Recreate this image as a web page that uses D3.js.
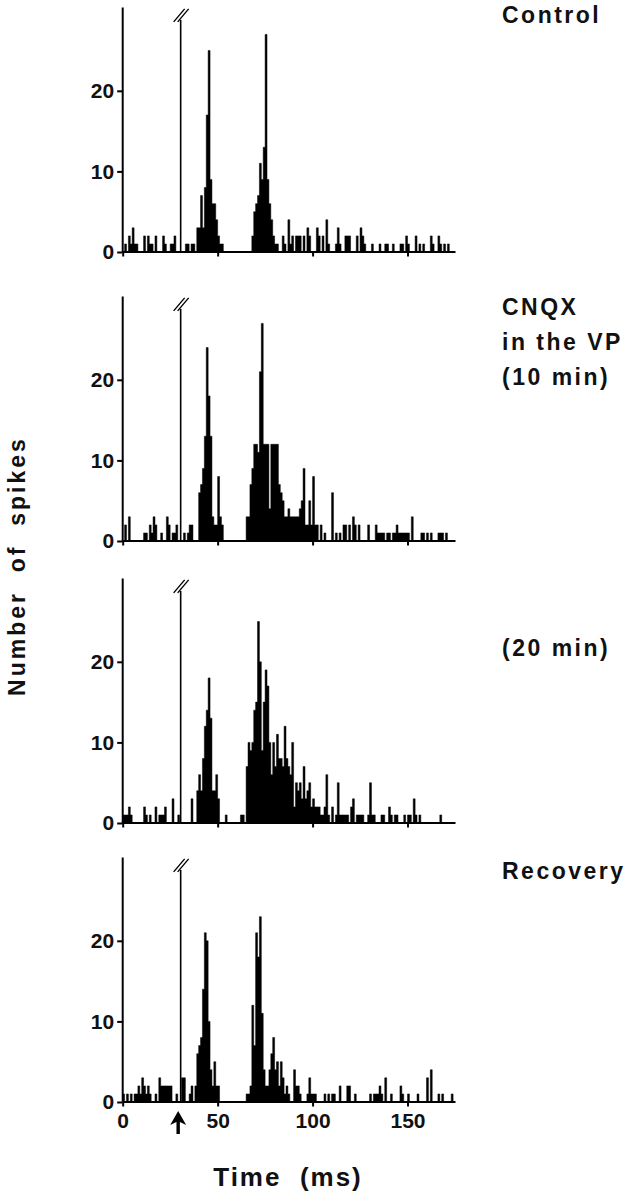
<!DOCTYPE html>
<html>
<head>
<meta charset="utf-8">
<script src="https://cdn.jsdelivr.net/npm/d3@7"></script>
<style>
  body { margin: 0; background: #fff; }
  svg { display: block; }
  text { font-family: "Liberation Sans", Arial, Helvetica, sans-serif; font-weight: bold; fill: #111; }
</style>
</head>
<body>
<div id="chart"></div>
<script>
// spike counts per 1 ms bin, 0..174 ms (stimulus artifact bin is drawn separately)
const controlCounts = [
  0,1,0,2,1,3,1,1,0,0, 0,2,0,2,1,1,0,2,0,0, 0,2,1,0,0,1,1,2,0,0,
  0,0,0,1,1,0,1,1,0,3, 3,7,3,8,17,25,9,6,6,4, 2,1,1,0,0,0,0,0,0,0,
  0,0,0,0,0,0,0,0,2,5, 6,7,11,9,13,27,9,6,4,2, 1,1,0,0,2,1,0,4,1,2,
  0,2,2,2,0,2,0,3,2,0, 0,0,3,2,0,2,0,4,1,0, 0,0,1,3,1,0,0,2,2,2,
  0,0,0,2,0,3,2,1,0,0, 0,1,0,0,0,1,0,0,1,1, 0,0,1,0,0,0,1,1,0,2,
  1,0,0,0,2,0,1,0,1,0, 0,0,2,1,0,0,2,1,0,1, 0,1,0,0,0
];
const cnqx10Counts = [
  0,2,0,3,0,0,0,0,0,0, 0,1,1,0,2,1,3,2,0,0, 1,0,0,3,2,0,1,1,2,0,
  0,0,1,0,1,2,2,0,0,0, 6,7,9,13,24,18,13,3,2,2, 8,3,2,0,0,0,0,0,0,0,
  0,0,0,0,0,3,3,7,9,12, 12,11,21,27,12,12,12,4,12,12, 12,12,7,6,5,3,3,4,3,3,
  3,3,3,4,5,9,2,2,5,2, 8,2,2,0,2,0,1,0,0,0, 6,0,1,0,1,0,2,2,0,2,
  0,3,2,0,2,0,0,0,0,2, 0,0,0,2,1,1,1,1,0,1, 1,0,1,1,2,1,1,1,1,1,
  1,0,3,0,0,0,0,1,1,0, 1,0,1,0,0,0,1,1,1,0, 1,0,0,0,0
];
const cnqx20Counts = [
  1,1,1,2,1,0,0,0,0,0, 0,2,1,0,1,0,0,2,0,1, 1,1,2,0,0,0,3,0,0,1,
  0,0,0,0,0,0,3,0,0,4, 6,4,8,12,14,18,13,4,4,6, 3,0,0,0,1,0,0,0,0,0,
  0,0,1,1,0,7,10,9,10,14, 15,25,20,9,15,19,17,10,6,10, 7,11,8,8,7,12,8,7,6,10,
  2,5,4,5,3,7,3,4,5,2, 3,2,2,2,1,1,2,6,1,0, 2,0,1,5,1,1,1,1,1,0,
  2,3,0,1,1,1,1,0,0,1, 5,1,1,0,0,0,1,1,0,0, 2,1,0,1,1,0,0,0,1,0,
  1,1,0,3,1,0,1,0,0,0, 0,0,0,0,0,0,0,1,0,0, 0,0,0,0,0
];
const recoveryCounts = [
  1,0,1,0,1,0,1,1,2,1, 3,2,1,2,1,0,0,1,0,3, 2,2,2,2,2,2,0,0,1,0,
  0,3,3,0,0,1,2,0,2,6, 7,8,14,21,20,10,4,2,5,2, 2,0,0,0,0,0,0,0,0,0,
  0,0,0,0,0,1,1,2,12,7, 21,18,23,11,4,2,2,4,6,8, 4,5,2,5,3,1,2,1,0,0,
  4,2,2,1,0,0,0,1,3,1, 1,1,0,0,0,0,1,0,1,0, 1,1,0,0,2,0,0,0,2,2,
  0,0,1,0,0,0,0,0,0,0, 1,0,1,1,1,2,1,0,3,0, 0,1,0,0,0,0,2,1,0,0,
  1,0,0,0,0,1,0,0,0,0, 3,0,4,0,0,0,1,0,1,0, 0,0,0,1,0
];

const panelCounts = [controlCounts, cnqx10Counts, cnqx20Counts, recoveryCounts];
const panelLabels = [["Control"], ["CNQX", "in the VP", "(10 min)"], ["(20 min)"], ["Recovery"]];
const stimulusMs = 30;     // stimulus artifact bin
const artifactClip = 28.8; // artifact bin is off scale, drawn clipped
const yTickValues = [0, 10, 20];
const xTickValues = [0, 50, 100, 150];
const timeMaxMs = 175;
const countMax = 30.4;

const width = 642, height = 1199;
const plotLeft = 122.7, plotRight = 455;
const panelBase = [252, 541, 823, 1102];
const labelBase = [23, 315, 656, 879];
const panelHeight = 245;

const svg = d3.select("#chart").append("svg")
  .attr("width", width).attr("height", height)
  .style("background", "#fff");

const x = d3.scaleLinear().domain([0, timeMaxMs]).range([plotLeft, plotRight]);

panelCounts.forEach((counts, p) => {
  const base = panelBase[p];
  const y = d3.scaleLinear().domain([0, countMax]).range([base, base - panelHeight]);
  const g = svg.append("g").attr("class", "panel");

  // histogram as one stepped area so neighbouring bins merge into solid blocks
  const steps = counts.map((c, i) => ({ t: i, c }));
  steps.push({ t: counts.length, c: 0 });

  const area = d3.area()
    .curve(d3.curveStepAfter)
    .x(d => x(d.t))
    .y0(y(0))
    .y1(d => y(d.c));

  g.append("path")
    .datum(steps)
    .attr("class", "histogram")
    .attr("d", area)
    .attr("fill", "#000")
    .attr("stroke", "#000")
    .attr("stroke-width", 0.5)
    .attr("stroke-linejoin", "miter");

  // clipped stimulus artifact with break mark
  const ax = x(stimulusMs) + 1;
  const top = y(artifactClip);
  g.append("line")
    .attr("x1", ax).attr("x2", ax)
    .attr("y1", y(0)).attr("y2", top)
    .attr("stroke", "#000").attr("stroke-width", 1.6);
  [-3, 1].forEach(dx => {
    g.append("line")
      .attr("x1", ax + dx - 4).attr("y1", top + 2)
      .attr("x2", ax + dx + 7).attr("y2", top - 11)
      .attr("stroke", "#000").attr("stroke-width", 1.4);
  });

  // axes
  const yAxis = d3.axisLeft(y).tickValues(yTickValues).tickSize(5).tickSizeOuter(0).tickPadding(3);
  const xAxis = d3.axisBottom(x).tickValues(xTickValues).tickSize(5).tickSizeOuter(0).tickPadding(7);
  if (p < panelCounts.length - 1) xAxis.tickFormat("");

  const gy = g.append("g").attr("transform", `translate(${plotLeft - 0.5},0)`).call(yAxis);
  const gx = g.append("g").attr("transform", `translate(0,${base - 0.5})`).call(xAxis);

  [gy, gx].forEach(a => {
    a.select(".domain").attr("stroke", "#000").attr("stroke-width", 2);
    a.selectAll(".tick line").attr("stroke", "#000").attr("stroke-width", 2);
    a.selectAll(".tick text")
      .attr("fill", "#111")
      .style("font-size", "21px")
      .style("font-weight", "bold")
      .style("font-family", "'Liberation Sans', Arial, sans-serif");
  });

  // condition label
  const label = svg.append("text")
    .attr("x", 502)
    .attr("y", labelBase[p])
    .style("font-size", "23px")
    .style("letter-spacing", "2.5px");
  panelLabels[p].forEach((line, k) => {
    label.append("tspan")
      .attr("x", 502)
      .attr("dy", k === 0 ? 0 : 35)
      .text(line);
  });
});

// stimulus arrow under the bottom panel
const arrowX = x(stimulusMs) - 1.5;
svg.append("path")
  .attr("d", `M${arrowX},1111 L${arrowX - 8},1125 L${arrowX - 1.7},1122 L${arrowX - 1.7},1134 L${arrowX + 1.7},1134 L${arrowX + 1.7},1122 L${arrowX + 8},1125 Z`)
  .attr("fill", "#000");

// axis titles
svg.append("text")
  .attr("x", 288).attr("y", 1186)
  .attr("text-anchor", "middle")
  .style("font-size", "26px")
  .style("letter-spacing", "2px")
  .style("white-space", "pre")
  .text("Time  (ms)");

svg.append("text")
  .attr("transform", "translate(25,566) rotate(-90)")
  .attr("text-anchor", "middle")
  .style("font-size", "23px")
  .style("letter-spacing", "3px")
  .style("white-space", "pre")
  .text("Number  of  spikes");
</script>
</body>
</html>
